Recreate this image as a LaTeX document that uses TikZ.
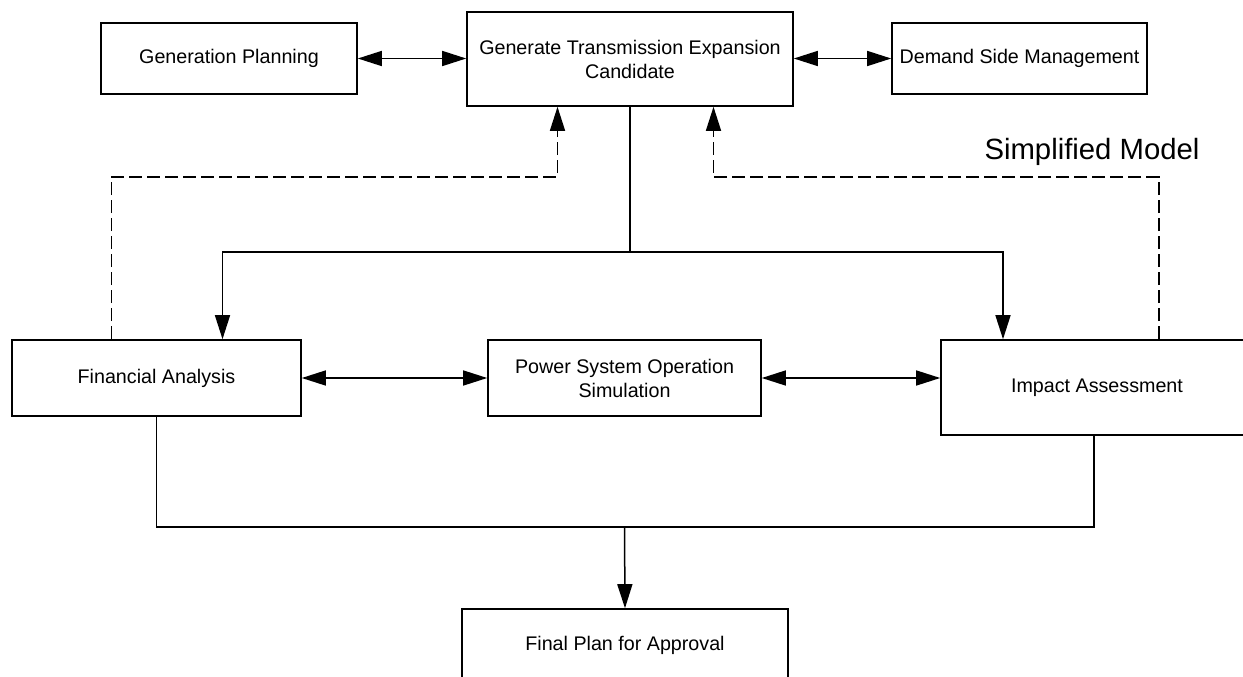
\documentclass[tikz,border=0pt]{standalone}
\usepackage{fontspec}
\setmainfont{Liberation Sans}
\usetikzlibrary{arrows.meta}
\begin{document}
\begin{tikzpicture}[x=1pt,y=-1pt,
  box/.style={draw=black,line width=1.6pt,fill=white,inner sep=0pt,align=center,
    font=\fontsize{19.7}{24}\selectfont},
  conn/.style={line width=1.5pt,draw=black},
  tip/.style={-{Triangle[length=24pt,width=15pt]}},
  dtip/.style={{Triangle[length=24pt,width=15pt]}-{Triangle[length=24pt,width=15pt]}},
  dsh/.style={conn,dash pattern=on 13pt off 5pt}]
\useasboundingbox (0,0) rectangle (1243,677);
\node[box,minimum width=256pt,minimum height=71pt] (gp) at (229,58.5) {Generation Planning};
\node[box,minimum width=326pt,minimum height=94pt] (gtec) at (630,59) {Generate Transmission Expansion\\Candidate};
\node[box,minimum width=255pt,minimum height=71pt] (dsm) at (1019.5,58.5) {Demand Side Management};
\node[box,minimum width=289pt,minimum height=76pt] (fa) at (156.5,378) {Financial Analysis};
\node[box,minimum width=273pt,minimum height=76pt] (psos) at (624.5,378) {Power System Operation\\Simulation};
\node[box,minimum width=312pt,minimum height=95pt] (ia) at (1097,387.5) {Impact Assessment};
\node[box,minimum width=326pt,minimum height=72pt] (fp) at (625,645) {Final Plan for Approval};
\node[font=\fontsize{29.3}{34}\selectfont,inner sep=0pt] (sm) at (1092,152) {Simplified Model};
\coordinate (jn) at (630,252);
\coordinate (dlc) at (300,177);
\coordinate (drc) at (900,177);
\coordinate (jb) at (624.5,527);
% top row
\draw[conn,dtip] (gp.east) -- (gtec.west |- gp.east);
\draw[conn,dtip] (gtec.east |- dsm.west) -- (dsm.west);
% distribution
\draw[conn] (gtec.south) -- (jn);
\draw[conn,tip] (jn) -| ([xshift=66pt]fa.north);
\draw[conn,tip] (jn) -| ([xshift=-94pt]ia.north);
% dashed feedback
\draw[dsh,tip] ([xshift=-45pt]fa.north) |- (dlc) -| ([xshift=-72.5pt]gtec.south);
\draw[dsh,tip] ([xshift=62pt]ia.north) |- (drc) -| ([xshift=83.5pt]gtec.south);
% middle row
\draw[conn,dtip] (fa.east) -- (psos.west);
\draw[conn,dtip] (psos.east) -- (psos.east -| ia.west);
% merge
\draw[conn] (fa.south) |- (jb) -| ([xshift=-3pt]ia.south);
\draw[conn,tip] (jb) -- (fp.north);
\end{tikzpicture}
\end{document}
